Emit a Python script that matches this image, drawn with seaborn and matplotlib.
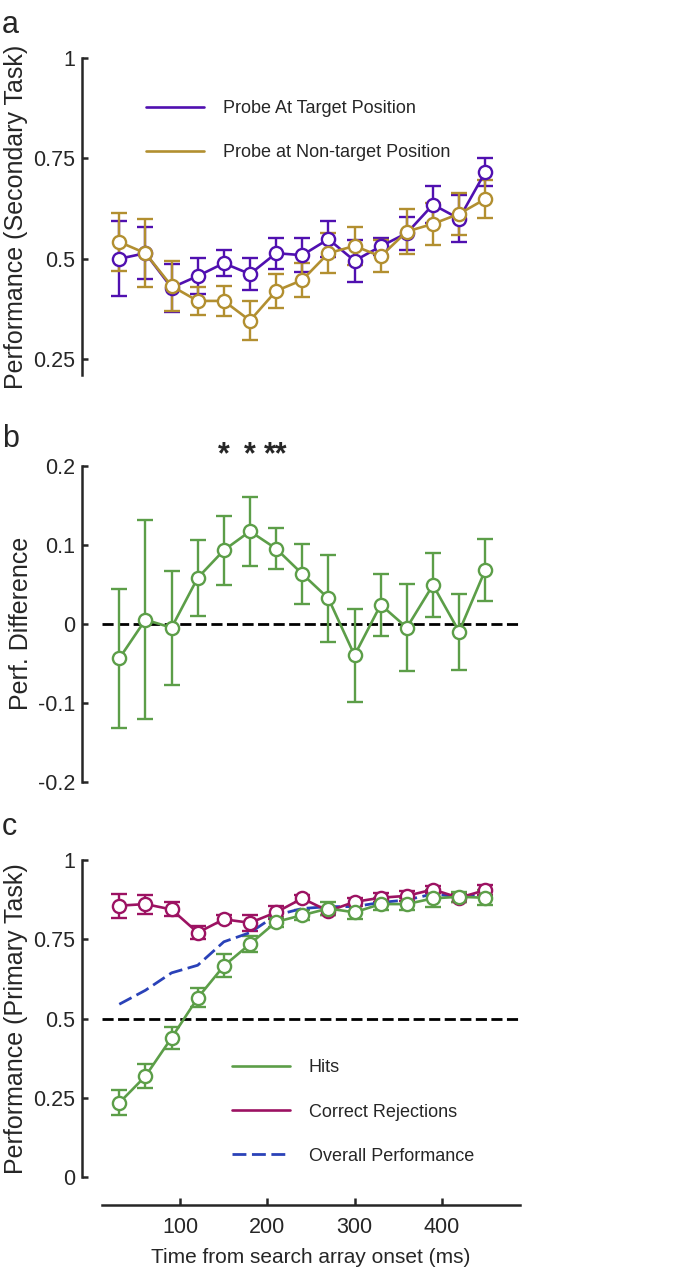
import matplotlib
matplotlib.use("Agg")
import numpy as np
import pandas as pd
import seaborn as sns
import matplotlib.pyplot as plt

# time bins (ms)
times = [30, 60, 90, 120, 150, 180, 210, 240, 270, 300, 330, 360, 390, 420, 450]

# panel a: secondary task performance
target_mean = [0.500, 0.514, 0.428, 0.457, 0.489, 0.462, 0.514, 0.509, 0.549, 0.495, 0.531, 0.564, 0.635, 0.600, 0.716]
target_err = [0.093, 0.065, 0.060, 0.044, 0.032, 0.041, 0.039, 0.042, 0.044, 0.053, 0.021, 0.041, 0.046, 0.059, 0.034]
nontarget_mean = [0.542, 0.514, 0.432, 0.395, 0.395, 0.346, 0.420, 0.447, 0.514, 0.532, 0.506, 0.568, 0.587, 0.612, 0.649]
nontarget_err = [0.072, 0.084, 0.063, 0.035, 0.038, 0.048, 0.042, 0.042, 0.050, 0.048, 0.040, 0.055, 0.052, 0.053, 0.048]

# panel b: performance difference
diff_mean = [-0.044, 0.005, -0.005, 0.058, 0.093, 0.117, 0.095, 0.063, 0.032, -0.040, 0.024, -0.005, 0.049, -0.010, 0.068]
diff_err = [0.088, 0.126, 0.072, 0.048, 0.044, 0.044, 0.026, 0.038, 0.055, 0.059, 0.039, 0.055, 0.040, 0.048, 0.039]
star_times = [150, 180, 210]
star_labels = ["*", "*", "**"]

# panel c: primary task performance
hits_mean = [0.234, 0.318, 0.439, 0.565, 0.666, 0.735, 0.805, 0.826, 0.847, 0.835, 0.861, 0.861, 0.879, 0.884, 0.881]
hits_err = [0.040, 0.038, 0.035, 0.030, 0.036, 0.026, 0.015, 0.015, 0.020, 0.022, 0.020, 0.020, 0.028, 0.015, 0.023]
cr_mean = [0.856, 0.861, 0.844, 0.771, 0.813, 0.802, 0.835, 0.879, 0.839, 0.868, 0.881, 0.887, 0.907, 0.881, 0.905]
cr_err = [0.038, 0.030, 0.022, 0.020, 0.013, 0.026, 0.021, 0.012, 0.012, 0.012, 0.015, 0.015, 0.012, 0.012, 0.015]
overall_mean = [0.545, 0.589, 0.644, 0.668, 0.742, 0.771, 0.826, 0.847, 0.853, 0.853, 0.866, 0.874, 0.893, 0.884, 0.895]

purple = "#5010B0"
gold = "#B28F30"
green = "#5C9E48"
magenta = "#9C1262"
blue = "#2A42B8"

sns.set_style("ticks")
plt.rcParams["font.family"] = ["Liberation Sans", "DejaVu Sans"]
plt.rcParams["axes.linewidth"] = 1.8
plt.rcParams["xtick.major.width"] = 1.8
plt.rcParams["ytick.major.width"] = 1.8

TICK_FS = 15.5
LABEL_FS = 18
LEG_FS = 13

fig = plt.figure(figsize=(6.79, 12.76), dpi=100)
ax_a = fig.add_axes([0.150, 0.706, 0.616, 0.2484])
ax_b = fig.add_axes([0.150, 0.3874, 0.616, 0.2476])
ax_c = fig.add_axes([0.150, 0.0776, 0.616, 0.2484])


def draw_series(ax, x, y, err, color, label):
	df = pd.DataFrame({"t": x, "v": y})
	ax.errorbar(x, y, yerr=err, fmt="none", ecolor=color, elinewidth=1.7,
		capsize=6, capthick=1.7, zorder=2)
	sns.lineplot(data=df, x="t", y="v", ax=ax, color=color, lw=1.9,
		marker="o", markersize=9.5, markerfacecolor="white",
		markeredgecolor=color, markeredgewidth=1.7, label=label, zorder=3)


def style_axis(ax, ylim, yticks, yticklabels, bottom):
	ax.set_xlim(10, 490)
	ax.set_ylim(*ylim)
	ax.set_yticks(yticks)
	ax.set_yticklabels(yticklabels)
	ax.tick_params(axis="y", direction="in", length=4, pad=5, labelsize=TICK_FS)
	if bottom:
		ax.set_xticks([100, 200, 300, 400])
		ax.tick_params(axis="x", direction="in", length=5, pad=9, labelsize=TICK_FS)
		sns.despine(ax=ax, offset={"left": 14, "bottom": 20})
	else:
		ax.set_xticks([])
		sns.despine(ax=ax, bottom=True, offset={"left": 14})
	ax.set_xlabel("")


def make_legend(ax, handles, labels, anchor):
	leg = ax.legend(handles, labels, loc="center left", bbox_to_anchor=anchor,
		frameon=False, fontsize=LEG_FS, handlelength=3.2, handletextpad=1.05,
		labelspacing=1.5, borderpad=0, borderaxespad=0)
	for h in leg.get_lines():
		h.set_marker("")
	return leg


# panel a
draw_series(ax_a, times, target_mean, target_err, purple, "Probe At Target Position")
draw_series(ax_a, times, nontarget_mean, nontarget_err, gold, "Probe at Non-target Position")
style_axis(ax_a, (0.21, 1.0), [0.25, 0.5, 0.75, 1.0], ["0.25", "0.5", "0.75", "1"], False)
ax_a.set_ylabel("Performance (Secondary Task)", fontsize=LABEL_FS)
ax_a.yaxis.set_label_coords(-0.177, 0.5)
h, l = ax_a.get_legend_handles_labels()
make_legend(ax_a, h, l, (0.105, 0.771))

# panel b
ax_b.axhline(0, color="black", lw=2, dashes=(4, 1.6), zorder=1)
draw_series(ax_b, times, diff_mean, diff_err, green, None)
style_axis(ax_b, (-0.2, 0.2), [-0.2, -0.1, 0, 0.1, 0.2], ["-0.2", "-0.1", "0", "0.1", "0.2"], False)
ax_b.set_ylabel("Perf. Difference", fontsize=LABEL_FS)
ax_b.yaxis.set_label_coords(-0.165, 0.5)
for t, s in zip(star_times, star_labels):
	ax_b.text(t, 0.213, s, ha="center", va="center", fontsize=22, fontweight="bold",
		clip_on=False)

# panel c
ax_c.axhline(0.5, color="black", lw=2, dashes=(4, 1.6), zorder=1)
draw_series(ax_c, times, cr_mean, cr_err, magenta, "Correct Rejections")
sns.lineplot(x=times, y=overall_mean, ax=ax_c, color=blue, lw=2,
	label="Overall Performance", zorder=2.5)
ax_c.get_lines()[-1].set_dashes((5, 2))
draw_series(ax_c, times, hits_mean, hits_err, green, "Hits")
style_axis(ax_c, (0, 1.0), [0, 0.25, 0.5, 0.75, 1.0], ["0", "0.25", "0.5", "0.75", "1"], True)
ax_c.set_ylabel("Performance (Primary Task)", fontsize=LABEL_FS)
ax_c.yaxis.set_label_coords(-0.177, 0.5)
ax_c.set_xlabel("Time from search array onset (ms)", fontsize=15, labelpad=7)

h, l = ax_c.get_legend_handles_labels()
order = [l.index("Hits"), l.index("Correct Rejections"), l.index("Overall Performance")]
make_legend(ax_c, [h[i] for i in order], [l[i] for i in order], (0.311, 0.205))

# panel letters
fig.text(0.003, 0.992, "a", fontsize=22, ha="left", va="top")
fig.text(0.003, 0.668, "b", fontsize=22, ha="left", va="top")
fig.text(0.003, 0.364, "c", fontsize=22, ha="left", va="top")

fig.savefig("out.png", dpi=100)
